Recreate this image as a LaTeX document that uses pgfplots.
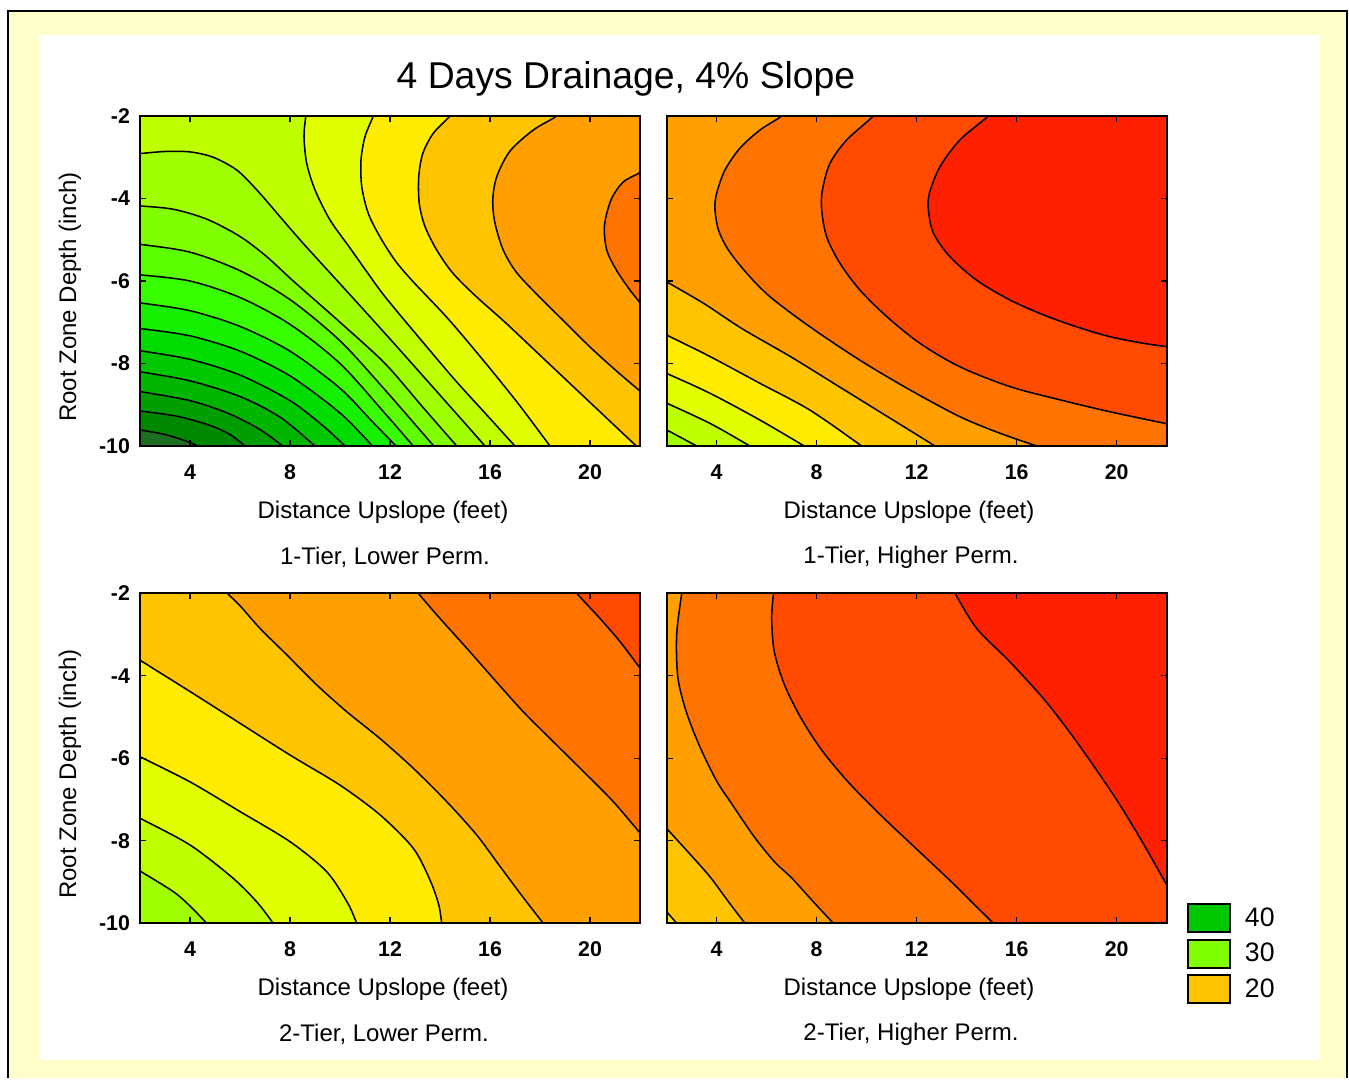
\documentclass[border=0pt]{standalone}
\usepackage{pgfplots}
\usepackage{pgfplotstable}
\pgfplotsset{compat=1.18}
\usepackage{fontspec}
\setmainfont{Liberation Sans}

\definecolor{cream}{HTML}{FFFFCC}
\definecolor{b12}{HTML}{FF2000}
\definecolor{b14}{HTML}{FF4A00}
\definecolor{b16}{HTML}{FF7400}
\definecolor{b18}{HTML}{FF9F00}
\definecolor{b20}{HTML}{FFC400}
\definecolor{b22}{HTML}{FFEC00}
\definecolor{b24}{HTML}{E2FF00}
\definecolor{b26}{HTML}{C0FF00}
\definecolor{b28}{HTML}{A0FF00}
\definecolor{b30}{HTML}{80FF00}
\definecolor{b32}{HTML}{5CFF00}
\definecolor{b34}{HTML}{38FF00}
\definecolor{b36}{HTML}{14F000}
\definecolor{b38}{HTML}{00DC00}
\definecolor{b40}{HTML}{00C800}
\definecolor{b42}{HTML}{00B400}
\definecolor{b44}{HTML}{009E00}
\definecolor{b46}{HTML}{008800}
\definecolor{b48}{HTML}{1A7020}

% ---------------- Panel 1: 1-Tier, Lower Perm. ----------------
\pgfplotstableread{
x y
22.3 -3.2
22 -3.37
21.33 -3.6
20.85 -4.02
20.58 -4.65
20.67 -5.25
21.07 -5.75
21.6 -6.22
22 -6.53
22.3 -6.78
23 -7
23 -11
1 -11
1 -1
23 -1
23 -3
}\oneA
\pgfplotstableread{
x y
18.9 -1.8
18.67 -2
17.73 -2.34
16.8 -2.85
16.27 -3.47
16.11 -4.04
16.2 -4.6
16.53 -5.25
17.07 -5.8
18.0 -6.4
19.0 -7.0
20.0 -7.6
21.0 -8.15
22 -8.67
22.3 -8.83
23 -9
23 -11
1 -11
1 -1
}\oneB
\pgfplotstableread{
x y
14.6 -1.8
14.4 -2
13.73 -2.42
13.31 -2.91
13.15 -3.47
13.17 -4.12
13.4 -4.68
13.87 -5.25
14.5 -5.8
15.4 -6.35
16.6 -7.0
18.0 -7.8
19.4 -8.6
20.8 -9.4
21.85 -10
22.1 -10.15
1 -11
1 -1
}\oneC
\pgfplotstableread{
x y
11.4 -1.8
11.33 -2
11.0 -2.5
10.84 -3.07
10.87 -3.71
11.13 -4.36
11.6 -4.93
12.2 -5.5
12.9 -6.0
14.3 -6.9
15.7 -7.9
17.1 -8.95
18.4 -10
18.6 -10.15
1 -11
1 -1
}\oneD
\pgfplotstableread{
x y
8.64 -1.8
8.63 -2
8.56 -2.5
8.67 -3.15
9.0 -3.79
9.6 -4.52
10.4 -5.2
11.1 -5.8
11.8 -6.38
13.2 -7.4
14.6 -8.4
15.8 -9.2
17.0 -10
17.25 -10.15
1 -11
1 -1
}\oneE
\pgfplotstableread{
x y
1.8 -2.91
2 -2.91
3.0 -2.86
4.0 -2.87
4.93 -3.0
5.87 -3.31
6.67 -3.79
7.6 -4.44
8.53 -5.09
10.2 -6.2
11.8 -7.27
13.8 -8.63
15.8 -10
16.0 -10.15
1 -11
}\oneF
\pgfplotstableread{
x y
1.8 -4.18
2 -4.18
3.33 -4.26
4.67 -4.5
6.0 -4.92
7.07 -5.41
8.13 -6.0
10.0 -7.0
11.8 -8.0
13.3 -9.05
14.67 -10
14.9 -10.15
1 -11
}\oneG
\pgfplotstableread{
x y
1.8 -5.1
2 -5.11
4 -5.3
6 -5.75
8 -6.45
10 -7.45
11.8 -8.64
13.75 -10
13.95 -10.15
1 -11
}\oneH
\pgfplotstableread{
x y
1.8 -5.85
2 -5.85
4 -6.0
6 -6.4
8 -7.05
10 -8.0
11.8 -9.21
12.93 -10
13.15 -10.15
1 -11
}\oneI
\pgfplotstableread{
x y
1.8 -6.52
2 -6.53
4 -6.72
6 -7.1
8 -7.7
10 -8.6
11.2 -9.35
12.24 -10
12.45 -10.15
1 -11
}\oneJ
\pgfplotstableread{
x y
1.8 -7.14
2 -7.15
4 -7.33
6 -7.7
8 -8.3
10 -9.2
11.3 -10
11.5 -10.15
1 -11
}\oneK
\pgfplotstableread{
x y
1.8 -7.68
2 -7.69
4 -7.9
6 -8.28
8 -8.9
9.3 -9.5
10.2 -10
10.4 -10.15
1 -11
}\oneL
\pgfplotstableread{
x y
1.8 -8.19
2 -8.2
4 -8.42
6 -8.8
7.6 -9.3
9.0 -10
9.2 -10.15
1 -11
}\oneM
\pgfplotstableread{
x y
1.8 -8.67
2 -8.68
4 -8.9
5.5 -9.2
6.8 -9.6
7.7 -10
7.9 -10.15
1 -11
}\oneN
\pgfplotstableread{
x y
1.8 -9.14
2 -9.15
3.5 -9.28
4.8 -9.5
5.6 -9.72
6.2 -10
6.4 -10.15
1 -11
}\oneO
\pgfplotstableread{
x y
1.8 -9.6
2 -9.61
3.0 -9.72
3.8 -9.87
4.3 -10
4.5 -10.15
1 -11
}\oneP

% ---------------- Panel 2: 1-Tier, Higher Perm. ----------------
\pgfplotstableread{
x y
15.1 -1.8
14.87 -2
13.73 -2.58
12.93 -3.23
12.51 -3.87
12.47 -4.28
12.67 -4.84
13.33 -5.41
14.4 -5.98
15.73 -6.46
17.07 -6.82
18.4 -7.11
19.73 -7.35
21.07 -7.51
22 -7.59
22.3 -7.61
23 -7.7
23 -11
1 -11
1 -1
}\twoA
\pgfplotstableread{
x y
10.45 -1.8
10.27 -2
9.2 -2.58
8.53 -3.15
8.23 -3.79
8.2 -4.28
8.4 -4.93
8.93 -5.57
9.73 -6.22
10.8 -6.86
12.13 -7.51
13.73 -8.08
15.73 -8.56
17.73 -8.88
19.73 -9.17
22 -9.46
22.3 -9.5
23 -9.6
23 -11
1 -11
1 -1
}\twoB
\pgfplotstableread{
x y
6.75 -1.8
6.6 -2
5.73 -2.34
4.93 -2.78
4.33 -3.31
4.0 -3.87
3.93 -4.24
4.07 -4.76
4.47 -5.25
5.2 -5.81
6.13 -6.38
7.73 -7.11
9.73 -7.92
11.73 -8.64
13.73 -9.29
15.33 -9.69
16.8 -10
17.5 -10.15
1 -11
1 -1
}\twoC
\pgfplotstableread{
x y
1.8 -5.95
2 -6.02
3.5 -6.55
5.0 -7.15
7.0 -7.85
9.0 -8.6
11.0 -9.35
12.73 -10
12.95 -10.1
1 -11
}\twoD
\pgfplotstableread{
x y
1.8 -7.25
2 -7.31
3.73 -7.83
5.73 -8.48
7.73 -9.13
9.8 -10
10.0 -10.1
1 -11
}\twoE
\pgfplotstableread{
x y
1.8 -8.19
2 -8.24
3.73 -8.72
5.73 -9.37
7.5 -10
7.7 -10.08
1 -11
}\twoF
\pgfplotstableread{
x y
1.8 -8.9
2 -8.96
3.73 -9.45
5.33 -10
5.5 -10.07
1 -11
}\twoG
\pgfplotstableread{
x y
1.8 -9.55
2 -9.61
3.2 -10
3.35 -10.06
1 -11
}\twoH

% ---------------- Panel 3: 2-Tier, Lower Perm. ----------------
\pgfplotstableread{
x y
19.3 -1.85
19.47 -2
20.4 -2.61
21.2 -3.17
21.96 -3.78
22.3 -4.05
23 -4.5
23 -11
1 -11
1 -1
}\threeA
\pgfplotstableread{
x y
12.95 -1.85
13.13 -2
14.0 -2.61
15.07 -3.33
16.13 -4.06
17.33 -4.87
18.67 -5.68
19.87 -6.4
20.93 -7.05
21.96 -7.78
22.3 -8.02
23 -8.5
23 -11
1 -11
1 -1
}\threeB
\pgfplotstableread{
x y
5.3 -1.85
5.49 -2
6.0 -2.3
6.8 -2.85
7.87 -3.49
9.07 -4.22
10.27 -4.87
11.6 -5.52
12.93 -6.24
14.27 -7.05
15.47 -7.86
16.4 -8.62
17.3 -9.35
18.13 -10
18.3 -10.13
1 -11
1 -1
}\threeC
\pgfplotstableread{
x y
1.8 -3.52
2 -3.62
4 -4.38
6 -5.15
8 -5.92
10 -6.65
11.6 -7.37
12.93 -8.18
13.6 -8.95
13.95 -9.55
14.07 -10
14.12 -10.15
1 -11
}\threeD
\pgfplotstableread{
x y
1.8 -5.88
2 -5.96
4 -6.57
6 -7.29
8 -8.02
9.47 -8.75
10.3 -9.5
10.67 -10
10.75 -10.15
1 -11
}\threeE
\pgfplotstableread{
x y
1.8 -7.37
2 -7.45
4 -8.1
5.73 -8.91
6.7 -9.5
7.33 -10
7.45 -10.12
1 -11
}\threeF
\pgfplotstableread{
x y
1.8 -8.65
2 -8.73
3.33 -9.23
4.0 -9.58
4.67 -10
4.8 -10.1
1 -11
}\threeG

% ---------------- Panel 4: 2-Tier, Higher Perm. ----------------
\pgfplotstableread{
x y
13.38 -1.85
13.53 -2
14.4 -2.85
15.73 -3.66
17.07 -4.55
18.1 -5.35
19.1 -6.2
20.1 -7.1
21.05 -8.05
21.93 -8.99
22.3 -9.38
23 -10
23 -11
1 -11
1 -1
}\fourA
\pgfplotstableread{
x y
6.28 -1.85
6.27 -2
6.2 -2.6
6.3 -3.4
6.7 -4.2
7.35 -5.0
8.2 -5.8
9.3 -6.6
10.6 -7.4
12.0 -8.2
13.4 -9.0
14.4 -9.6
15.07 -10
15.3 -10.13
1 -11
1 -1
}\fourB
\pgfplotstableread{
x y
2.62 -1.85
2.6 -2
2.4 -3.0
2.45 -4.05
2.8 -4.9
3.35 -5.75
4.0 -6.55
4.6 -7.1
5.5 -7.9
6.3 -8.5
7.0 -8.9
7.9 -9.5
8.67 -10
8.85 -10.12
1 -11
1 -1
}\fourC
\pgfplotstableread{
x y
1.8 -7.55
2 -7.7
2.9 -8.3
3.73 -8.87
4.5 -9.5
5.13 -10
5.25 -10.12
1 -11
}\fourD
\pgfplotstableread{
x y
1.8 -9.6
2 -9.72
2.4 -10
2.5 -10.08
1 -11
}\fourE

\newcommand{\fillband}[2]{\addplot[fill=#2, draw=none, forget plot] table {#1};}
\newcommand{\contourline}[1]{\addplot[black, line width=1.15pt, smooth, line join=round,
  restrict x to domain=1.5:22.5, restrict y to domain=-10.5:-1.5, forget plot] table {#1};}
\newcommand{\bgfill}[1]{\addplot[fill=#1, draw=none, forget plot] coordinates {(1,-1) (23,-1) (23,-11) (1,-11)};}

\pgfplotsset{
  panel/.style={
    scale only axis, width=375pt, height=247.5pt,
    xmin=2, xmax=22, ymin=-10, ymax=-2,
    axis on top,
    tick align=inside,
    major tick length=4.5pt,
    xtick={4,8,12,16,20}, xticklabels={4,8,12,16,20},
    ytick={-10,-8,-6,-4,-2},
    every tick/.style={black, line width=0.9pt},
    axis line style={line width=1.5pt},
    ticklabel style={font=\bfseries\fontsize{16}{16}\selectfont},
    xticklabel shift=10.5pt,
    yticklabel shift=4pt,
  }
}
\newcommand{\lab}{\fontsize{18}{20}\selectfont}

\begin{document}
\begin{tikzpicture}[x=0.75pt,y=-0.75pt]
\fill[white] (0,0) rectangle (1349,1078);
\fill[cream] (8,11) rectangle (1347,1078);
\draw[line width=1.7pt] (8,1078) -- (8,11) -- (1347,11) -- (1347,1078);
\fill[white] (39,35) rectangle (1320,1060);

% Panel 1
\begin{axis}[panel, at={(105pt,-334.5pt)}, anchor=south west, yticklabels={-10,-8,-6,-4,-2}]
\bgfill{b16}
\fillband{\oneA}{b18}
\fillband{\oneB}{b20}
\fillband{\oneC}{b22}
\fillband{\oneD}{b24}
\fillband{\oneE}{b26}
\fillband{\oneF}{b28}
\fillband{\oneG}{b30}
\fillband{\oneH}{b32}
\fillband{\oneI}{b34}
\fillband{\oneJ}{b36}
\fillband{\oneK}{b38}
\fillband{\oneL}{b40}
\fillband{\oneM}{b42}
\fillband{\oneN}{b44}
\fillband{\oneO}{b46}
\fillband{\oneP}{b48}
\contourline{\oneA}
\contourline{\oneB}
\contourline{\oneC}
\contourline{\oneD}
\contourline{\oneE}
\contourline{\oneF}
\contourline{\oneG}
\contourline{\oneH}
\contourline{\oneI}
\contourline{\oneJ}
\contourline{\oneK}
\contourline{\oneL}
\contourline{\oneM}
\contourline{\oneN}
\contourline{\oneO}
\contourline{\oneP}
\end{axis}

% Panel 2
\begin{axis}[panel, at={(500pt,-334.5pt)}, anchor=south west, yticklabels={}]
\bgfill{b12}
\fillband{\twoA}{b14}
\fillband{\twoB}{b16}
\fillband{\twoC}{b18}
\fillband{\twoD}{b20}
\fillband{\twoE}{b22}
\fillband{\twoF}{b24}
\fillband{\twoG}{b26}
\fillband{\twoH}{b28}
\contourline{\twoA}
\contourline{\twoB}
\contourline{\twoC}
\contourline{\twoD}
\contourline{\twoE}
\contourline{\twoF}
\contourline{\twoG}
\contourline{\twoH}
\end{axis}

% Panel 3
\begin{axis}[panel, at={(105pt,-692.5pt)}, anchor=south west, yticklabels={-10,-8,-6,-4,-2}]
\bgfill{b14}
\fillband{\threeA}{b16}
\fillband{\threeB}{b18}
\fillband{\threeC}{b20}
\fillband{\threeD}{b22}
\fillband{\threeE}{b24}
\fillband{\threeF}{b26}
\fillband{\threeG}{b28}
\contourline{\threeA}
\contourline{\threeB}
\contourline{\threeC}
\contourline{\threeD}
\contourline{\threeE}
\contourline{\threeF}
\contourline{\threeG}
\end{axis}

% Panel 4
\begin{axis}[panel, at={(500pt,-692.5pt)}, anchor=south west, yticklabels={},
  legend style={at={(1.0406,0.0615)}, anchor=north west, draw=none, fill=none,
    inner sep=0pt, outer sep=0pt, row sep=4.1pt,
    font=\fontsize{20}{20}\selectfont, nodes={inner sep=0pt},
    /tikz/every odd column/.append style={column sep=10.5pt}},
  legend cell align=left]
\bgfill{b12}
\fillband{\fourA}{b14}
\fillband{\fourB}{b16}
\fillband{\fourC}{b18}
\fillband{\fourD}{b20}
\fillband{\fourE}{b22}
\contourline{\fourA}
\contourline{\fourB}
\contourline{\fourC}
\contourline{\fourD}
\contourline{\fourE}
\addlegendimage{legend image code/.code={\draw[fill=b40,draw=black,line width=1.5pt] (0pt,-10.5pt) rectangle (31.5pt,10.5pt);}}
\addlegendentry{40}
\addlegendimage{legend image code/.code={\draw[fill=b30,draw=black,line width=1.5pt] (0pt,-10.5pt) rectangle (31.5pt,10.5pt);}}
\addlegendentry{30}
\addlegendimage{legend image code/.code={\draw[fill=b20,draw=black,line width=1.5pt] (0pt,-10.5pt) rectangle (31.5pt,10.5pt);}}
\addlegendentry{20}
\end{axis}

% Texts
\node[font=\fontsize{28}{30}\selectfont] at (626,79) {4 Days Drainage, 4\% Slope};
\node[font=\lab] at (383,512) {Distance Upslope (feet)};
\node[font=\lab] at (909,512) {Distance Upslope (feet)};
\node[font=\lab] at (383,989) {Distance Upslope (feet)};
\node[font=\lab] at (909,989) {Distance Upslope (feet)};
\node[font=\lab] at (385,557) {1-Tier, Lower Perm.};
\node[font=\lab] at (911,557) {1-Tier, Higher Perm.};
\node[font=\lab] at (384,1034) {2-Tier, Lower Perm.};
\node[font=\lab] at (911,1034) {2-Tier, Higher Perm.};
\node[font=\lab, rotate=90] at (70,297) {Root Zone Depth (inch)};
\node[font=\lab, rotate=90] at (70,774) {Root Zone Depth (inch)};
\end{tikzpicture}
\end{document}
